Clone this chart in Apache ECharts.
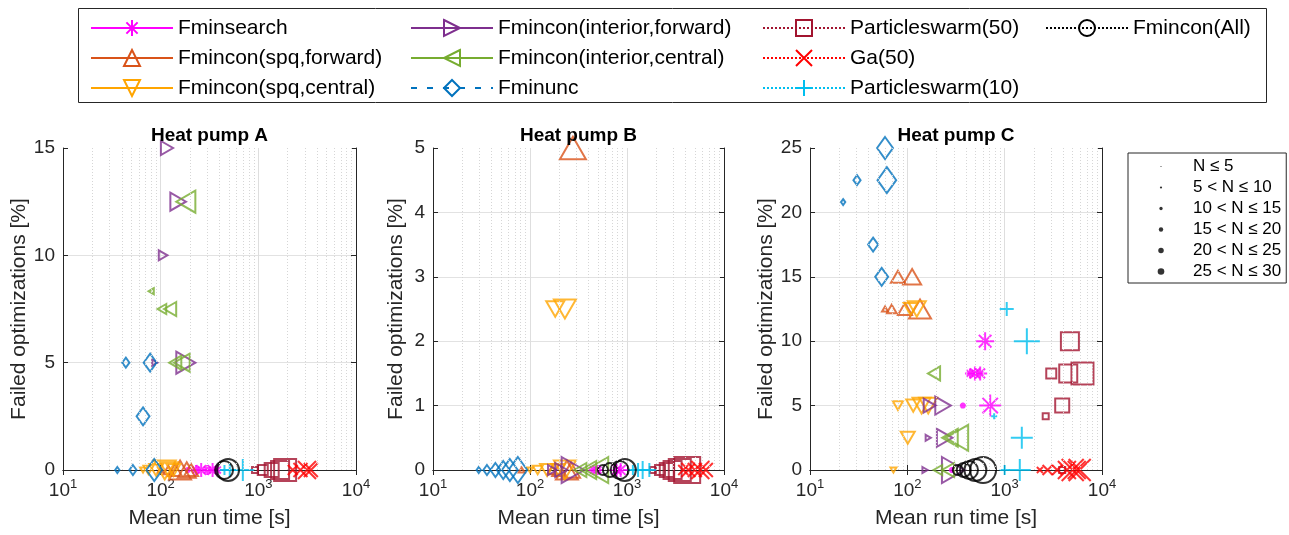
<!DOCTYPE html>
<html>
<head>
<meta charset="utf-8">
<script src="https://cdn.jsdelivr.net/npm/echarts@6/dist/echarts.min.js"></script>
<style>
  html, body { margin: 0; padding: 0; background: #fff; }
  #chart { width: 1289px; height: 535px; }
</style>
</head>
<body>
<div id="chart"></div>
<script>
// ---- data ----
const methodNames = [
  "Fminsearch", "Fmincon(spq,forward)", "Fmincon(spq,central)",
  "Fmincon(interior,forward)", "Fmincon(interior,central)", "Fminunc",
  "Particleswarm(50)", "Ga(50)", "Particleswarm(10)", "Fmincon(All)"
];
const panelTitles = ["Heat pump A", "Heat pump B", "Heat pump C"];
const xTicks = [10, 100, 1000, 10000];
const yTicksA = [0, 5, 10, 15];
const yTicksB = [0, 1, 2, 3, 4, 5];
const yTicksC = [0, 5, 10, 15, 20, 25];
const sizeLabels = ["N \u2264 5", "5 < N \u2264 10", "10 < N \u2264 15", "15 < N \u2264 20", "20 < N \u2264 25", "25 < N \u2264 30"];

// points: [mean run time s, failed %, N class 1..6]
const fminsearchA = [[190, 0, 1], [230, 0, 2], [260, 0, 3], [300, 0, 2], [340, 0, 3], [380, 0, 2]];
const spqForwardA = [[100, 0, 1], [120, 0, 2], [140, 0, 3], [158, 0, 5], [185, 0, 4], [205, 0, 3]];
const spqCentralA = [[66, 0, 1], [75, 0, 2], [90, 0, 3], [110, 0, 5], [122, 0, 4], [135, 0, 3]];
const intForwardA = [[116, 15, 3], [151, 12.5, 4], [106, 10, 2], [87, 5, 1], [181, 5, 5]];
const intCentralA = [[181, 12.5, 5], [80, 8.33, 1], [103, 7.5, 2], [125, 7.5, 3], [141, 5, 3], [165, 5, 4]];
const fminuncA = [[44, 5, 2], [78, 5, 4], [66, 2.5, 4], [36, 0, 1], [52, 0, 2], [86, 0, 5]];
const pswarm50A = [[925, 0, 1], [1110, 0, 2], [1370, 0, 3], [1670, 0, 4], [1880, 0, 5]];
const ga50A = [[2250, 0, 2], [2700, 0, 3], [3150, 0, 4], [3450, 0, 3]];
const pswarm10A = [[450, 0, 2], [510, 0, 3], [694, 0, 5]];
const fminconAllA = [[446, 0, 4], [490, 0, 5]];

const fminsearchB = [[450, 0, 2], [500, 0, 2], [780, 0, 3], [860, 0, 3]];
const spqForwardB = [[277, 5, 6], [82, 0, 1], [170, 0, 2], [200, 0, 3], [240, 0, 5], [265, 0, 4]];
const spqCentralB = [[182, 2.5, 4], [229, 2.5, 5], [100, 0, 1], [120, 0, 2], [150, 0, 3], [195, 0, 3], [229, 0, 5]];
const intForwardB = [[170, 0, 2], [210, 0, 3], [277, 0, 6]];
const intCentralB = [[330, 0, 3], [400, 0, 4], [490, 0, 6]];
const fminuncB = [[29.6, 0, 1], [36, 0, 2], [44, 0, 3], [53, 0, 4], [62, 0, 5], [75, 0, 6]];
const pswarm50B = [[1850, 0, 1], [2190, 0, 2], [2570, 0, 3], [2950, 0, 4], [3500, 0, 5], [4170, 0, 6]];
const ga50B = [[3800, 0, 2], [4300, 0, 3], [5000, 0, 3], [5700, 0, 4], [6500, 0, 3]];
const pswarm10B = [[1150, 0, 2], [1300, 0, 3], [1450, 0, 4], [1700, 0, 3]];
const fminconAllB = [[565, 0, 2], [666, 0, 3], [840, 0, 4], [950, 0, 5]];

const fminsearchC = [[630, 10, 4], [440, 7.5, 2], [495, 7.5, 3], [560, 7.5, 3], [372, 5, 1], [710, 5, 5], [287, 0, 1]];
const spqForwardC = [[80, 15, 3], [112, 15, 4], [59, 12.5, 1], [69, 12.5, 2], [94.5, 12.5, 3], [135, 12.5, 5]];
const spqCentralC = [[108, 12.5, 3], [125, 12.5, 4], [80, 5, 2], [115, 5, 3], [140, 5, 4], [164, 5, 4], [101, 2.5, 3], [72, 0, 1]];
const intForwardC = [[170, 5, 3], [233, 5, 4], [164, 2.5, 1], [242, 2.5, 4], [152, 0, 1], [296, 0, 6]];
const intCentralC = [[188, 7.5, 3], [274, 2.5, 4], [323, 2.5, 6], [206, 0, 2], [262, 0, 3]];
const fminuncC = [[59, 25, 5], [30.4, 22.5, 2], [61.6, 22.5, 6], [21.9, 20.8, 1], [44.5, 17.5, 3], [54.5, 15, 4]];
const pswarm50C = [[4680, 10, 4], [3010, 7.5, 2], [4500, 7.5, 4], [6300, 7.5, 5], [3900, 5, 3], [2640, 4.17, 1], [3900, 0, 1]];
const ga50C = [[2300, 0, 1], [2760, 0, 2], [3460, 0, 2], [4360, 0, 4], [5000, 0, 5], [5500, 0, 4], [5900, 0, 5]];
const pswarm10C = [[1050, 12.5, 3], [1690, 10, 6], [780, 4.17, 1], [1500, 2.5, 5], [1000, 0, 2], [1430, 0, 5]];
const fminconAllC = [[330, 0, 2], [380, 0, 3], [430, 0, 4], [500, 0, 5], [600, 0, 6]];

const panels = [
  [fminsearchA, spqForwardA, spqCentralA, intForwardA, intCentralA, fminuncA, pswarm50A, ga50A, pswarm10A, fminconAllA],
  [fminsearchB, spqForwardB, spqCentralB, intForwardB, intCentralB, fminuncB, pswarm50B, ga50B, pswarm10B, fminconAllB],
  [fminsearchC, spqForwardC, spqCentralC, intForwardC, intCentralC, fminuncC, pswarm50C, ga50C, pswarm10C, fminconAllC]
];
const panelYTicks = [yTicksA, yTicksB, yTicksC];

// ---- styles ----
const TEXT = "#262626";
const FONT = "'Liberation Sans', Arial, sans-serif";
const SIZE_PX = [6, 10, 14, 18, 22, 26];
const STAR = "path://M10,0L10,20M0,10L20,10M3,3L17,17M17,3L3,17";
const UP = "path://M0,17.32L10,0L20,17.32Z";
const DOWN = "path://M0,0L20,0L10,17.32Z";
const RIGHT = "path://M0,0L17.32,10L0,20Z";
const LEFT = "path://M17.32,0L0,10L17.32,20Z";
const CROSS = "path://M0,0L20,20M20,0L0,20";
const PLUS = "path://M10,0L10,20M0,10L20,10";
const methodColors = ["#FF00FF", "#D95319", "#FFA500", "#7E2F8E", "#77AC30", "#0072BD", "#A2142F", "#FF0000", "#00BFEF", "#000000"];
const methodSymbols = [STAR, UP, DOWN, RIGHT, LEFT, "diamond", "rect", CROSS, PLUS, "circle"];
const methodLines = ["solid", "solid", "solid", "solid", "solid", [6, 10], [2, 2], [2, 2], [2, 2], [2, 2]];
const legendColumns = [[0, 1, 2], [3, 4, 5], [6, 7, 8], [9]];
const legendLeft = [90, 410, 762, 1045];
const gridBoxes = [{ left: 63, width: 293 }, { left: 433, width: 291 }, { left: 810, width: 292 }];
const yNameGap = [33, 26, 33];

const minorGrid = [];
for (let e = 1; e < 4; e++) for (let k = 2; k <= 9; k++) minorGrid.push(k * Math.pow(10, e));

function dotIcon(k) {
  const r = 0.55 * (k + 1);
  return "path://M0,0M54,20M27,10m-" + r + ",0a" + r + "," + r + " 0 1,0 " + 2 * r + ",0a" + r + "," + r + " 0 1,0 -" + 2 * r + ",0z";
}

const chart = echarts.init(document.getElementById("chart"));

const grid = gridBoxes.map(b => ({
  left: b.left, width: b.width, top: 148, height: 322, outerBoundsMode: "none", containLabel: false
}));

const xAxis = [];
const yAxis = [];
gridBoxes.forEach((b, g) => {
  xAxis.push({
    type: "log", logBase: 10, gridIndex: g, min: xTicks[0], max: xTicks[xTicks.length - 1], position: "bottom",
    axisLine: { show: true, lineStyle: { color: TEXT, width: 1 } },
    axisTick: { inside: true, length: 5, lineStyle: { color: TEXT } },
    axisLabel: {
      margin: 8,
      formatter: v => "{b|10}{s|" + Math.round(Math.log10(v)) + "}",
      rich: {
        b: { fontSize: 19, color: TEXT, fontFamily: FONT },
        s: { fontSize: 13, color: TEXT, fontFamily: FONT, padding: [0, 0, 12, 0] }
      }
    },
    splitLine: { show: true, showMinLine: false, showMaxLine: false, lineStyle: { color: "#dedede", width: 1 } },
    name: "Mean run time [s]", nameLocation: "middle", nameGap: 38, nameMoveOverlap: false,
    nameTextStyle: { fontSize: 21, color: TEXT, fontFamily: FONT }
  });
  xAxis.push({
    type: "log", logBase: 10, gridIndex: g, min: xTicks[0], max: xTicks[xTicks.length - 1], position: "top",
    axisLine: { show: true, lineStyle: { color: TEXT, width: 1 } },
    axisTick: { inside: true, length: 5, lineStyle: { color: TEXT } },
    axisLabel: { show: false }, splitLine: { show: false }
  });
  const ticks = panelYTicks[g];
  const yBase = {
    type: "value", gridIndex: g, min: ticks[0], max: ticks[ticks.length - 1], interval: ticks[1] - ticks[0]
  };
  yAxis.push(Object.assign({}, yBase, {
    position: "left",
    axisLine: { show: true, lineStyle: { color: TEXT, width: 1 } },
    axisTick: { inside: true, length: 5, lineStyle: { color: TEXT } },
    axisLabel: { fontSize: 19, color: TEXT, fontFamily: FONT, margin: 8 },
    splitLine: { show: true, showMinLine: false, showMaxLine: false, lineStyle: { color: "#e2e2e2", width: 1 } },
    name: "Failed optimizations [%]", nameLocation: "middle", nameGap: yNameGap[g], nameMoveOverlap: false,
    nameTextStyle: { fontSize: 21, color: TEXT, fontFamily: FONT }
  }));
  yAxis.push(Object.assign({}, yBase, {
    position: "right",
    axisLine: { show: true, lineStyle: { color: TEXT, width: 1 } },
    axisTick: { inside: true, length: 5, lineStyle: { color: TEXT } },
    axisLabel: { show: false }, splitLine: { show: false }
  }));
});

const series = [];
// legend carriers (line + marker icons)
methodNames.forEach((name, m) => {
  series.push({
    type: "line", name, data: [], xAxisIndex: 0, yAxisIndex: 0, symbol: methodSymbols[m],
    lineStyle: { color: methodColors[m], width: 2, type: methodLines[m] },
    itemStyle: { color: "rgba(0,0,0,0)", borderColor: methodColors[m], borderWidth: 2 }
  });
});
sizeLabels.forEach(name => {
  series.push({ type: "scatter", name, data: [], xAxisIndex: 0, yAxisIndex: 0, itemStyle: { color: "#000" } });
});

panels.forEach((sets, g) => {
  series.push({
    type: "line", data: [], xAxisIndex: g * 2, yAxisIndex: g * 2, silent: true, z: 1,
    markLine: {
      silent: true, symbol: "none", label: { show: false }, animation: false,
      lineStyle: { color: "#d6d6d6", width: 1, type: [1, 2] },
      emphasis: { disabled: true },
      data: minorGrid.map(v => ({ xAxis: v }))
    }
  });
  sets.forEach((pts, m) => {
    const sym = methodSymbols[m];
    series.push({
      type: "scatter", name: methodNames[m], data: pts, xAxisIndex: g * 2, yAxisIndex: g * 2,
      clip: false, z: 3, symbol: sym, symbolKeepAspect: sym.indexOf("path://") === 0,
      symbolSize: v => {
        const s = SIZE_PX[v[2] - 1];
        return sym === "diamond" ? [s * 0.72, s] : s;
      },
      itemStyle: { color: "rgba(0,0,0,0)", borderColor: methodColors[m], borderWidth: 2 },
      emphasis: { disabled: true }
    });
  });
});

const legend = legendColumns.map((col, i) => ({
  orient: "vertical", left: legendLeft[i], top: 13, padding: 0, itemGap: 0,
  itemWidth: 82, itemHeight: 20, selectedMode: false,
  textStyle: { fontSize: 21, color: "#000", lineHeight: 30, fontFamily: FONT },
  data: col.map(m => ({
    name: methodNames[m],
    itemStyle: { color: "rgba(0,0,0,0)", borderColor: methodColors[m], borderWidth: 2 },
    lineStyle: { color: methodColors[m], width: 2, type: methodLines[m] }
  }))
}));
legend.push({
  orient: "vertical", left: 1128, top: 153, padding: [3, 5, 1, 6], itemGap: 0,
  borderColor: TEXT, borderWidth: 1, itemWidth: 54, itemHeight: 20, selectedMode: false,
  textStyle: { fontSize: 17, color: "#000", lineHeight: 21, fontFamily: FONT },
  data: sizeLabels.map((name, k) => ({ name, icon: dotIcon(k) }))
});

chart.setOption({
  animation: false,
  backgroundColor: "#fff",
  textStyle: { fontFamily: FONT },
  title: panelTitles.map((t, g) => ({
    text: t, left: gridBoxes[g].left + gridBoxes[g].width / 2, top: 126, textAlign: "center", padding: 0,
    textStyle: { fontSize: 19, fontWeight: "bold", color: "#000", fontFamily: FONT }
  })),
  legend,
  grid,
  xAxis,
  yAxis,
  series,
  graphic: [{
    type: "rect", silent: true, z: -1,
    shape: { x: 78.5, y: 8.5, width: 1188, height: 94 },
    style: { fill: "none", stroke: TEXT, lineWidth: 1 }
  }]
});
</script>
</body>
</html>
